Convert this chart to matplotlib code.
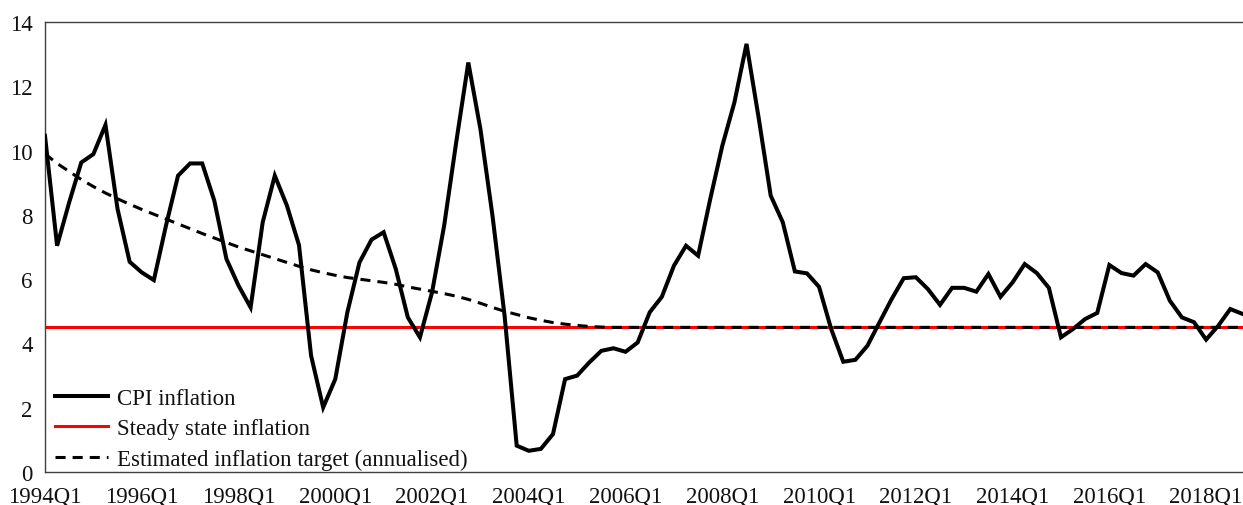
import matplotlib
matplotlib.use('Agg')
import matplotlib.pyplot as plt
import numpy as np

plt.rcParams['font.family'] = ['Liberation Serif', 'DejaVu Serif']

# Quarterly data 1994Q1 - 2018Q4
cpi_inflation = [
    10.46, 7.04, 8.39, 9.63, 9.89, 10.80, 8.18, 6.54, 6.21, 5.97,
    7.66, 9.22, 9.60, 9.60, 8.44, 6.63, 5.80, 5.12, 7.77, 9.22,
    8.29, 7.06, 3.62, 2.01, 2.89, 4.97, 6.52, 7.23, 7.46, 6.32,
    4.81, 4.19, 5.59, 7.66, 10.26, 12.74, 10.67, 7.97, 4.86, 0.82,
    0.66, 0.72, 1.18, 2.89, 3.00, 3.41, 3.77, 3.85, 3.74, 4.03,
    4.97, 5.45, 6.42, 7.04, 6.73, 8.49, 10.15, 11.50, 13.32, 11.03,
    8.60, 7.77, 6.24, 6.18, 5.76, 4.45, 3.43, 3.49, 3.93, 4.66,
    5.38, 6.03, 6.06, 5.69, 5.20, 5.73, 5.73, 5.61, 6.16, 5.45,
    5.90, 6.47, 6.19, 5.73, 4.19, 4.45, 4.76, 4.95, 6.44, 6.19,
    6.11, 6.47, 6.21, 5.33, 4.81, 4.66, 4.12, 4.55, 5.07, 4.92,
]

inflation_target = [
    9.90, 9.60, 9.35, 9.10, 8.88, 8.68, 8.50, 8.33, 8.17, 8.02,
    7.87, 7.72, 7.57, 7.42, 7.28, 7.14, 7.00, 6.88, 6.76, 6.64,
    6.52, 6.40, 6.29, 6.20, 6.12, 6.05, 6.00, 5.95, 5.90, 5.84,
    5.76, 5.69, 5.62, 5.55, 5.47, 5.37, 5.25, 5.12, 5.00, 4.90,
    4.80, 4.72, 4.65, 4.60, 4.56, 4.53, 4.51, 4.50, 4.50, 4.50,
    4.50, 4.50, 4.50, 4.50, 4.50, 4.50, 4.50, 4.50, 4.50, 4.50,
    4.50, 4.50, 4.50, 4.50, 4.50, 4.50, 4.50, 4.50, 4.50, 4.50,
    4.50, 4.50, 4.50, 4.50, 4.50, 4.50, 4.50, 4.50, 4.50, 4.50,
    4.50, 4.50, 4.50, 4.50, 4.50, 4.50, 4.50, 4.50, 4.50, 4.50,
    4.50, 4.50, 4.50, 4.50, 4.50, 4.50, 4.50, 4.50, 4.50, 4.50,
]

steady_state = 4.5

quarters = [f'{y}Q{q}' for y in range(1994, 2019) for q in range(1, 5)]
tick_labels = ['1994Q1', '1996Q1', '1998Q1', '2000Q1', '2002Q1', '2004Q1', '2006Q1',
               '2008Q1', '2010Q1', '2012Q1', '2014Q1', '2016Q1', '2018Q1']

x = np.arange(len(quarters))

fig = plt.figure(figsize=(12.43, 5.06), dpi=100)
ax = fig.add_axes([0.0362, 0.0652, 0.9638, 0.8893])

ax.plot(x, cpi_inflation, color='black', lw=2.9, solid_joinstyle='miter',
        label='CPI inflation', zorder=3)
ax.axhline(steady_state, color='#ff0000', lw=2.2, label='Steady state inflation', zorder=2)
ax.plot(x, inflation_target, color='black', lw=2.2, dashes=(3.3, 2.3),
        label='Estimated inflation target (annualised)', zorder=4)

ax.set_xlim(0, 99.05)
ax.set_ylim(0, 14)
ax.set_yticks(range(0, 15, 2))
ax.set_xticks([quarters.index(t) for t in tick_labels])
ax.set_xticklabels(tick_labels)

ax.tick_params(axis='both', length=0, labelsize=16.5, colors='#111111')
ax.tick_params(axis='y', pad=8.8)
ax.tick_params(axis='x', pad=10)

for side in ['left', 'top', 'bottom']:
    ax.spines[side].set_color('#404040')
    ax.spines[side].set_linewidth(1.0)
ax.spines['right'].set_visible(False)

leg = ax.legend(loc='lower left', frameon=False, fontsize=16.5, handlelength=2.3,
                handletextpad=0.4, labelspacing=0.4, borderaxespad=0.1,
                bbox_to_anchor=(-0.001, -0.02))
for t in leg.get_texts():
    t.set_color('#111111')

fig.savefig('out.png', dpi=100, facecolor='white')
